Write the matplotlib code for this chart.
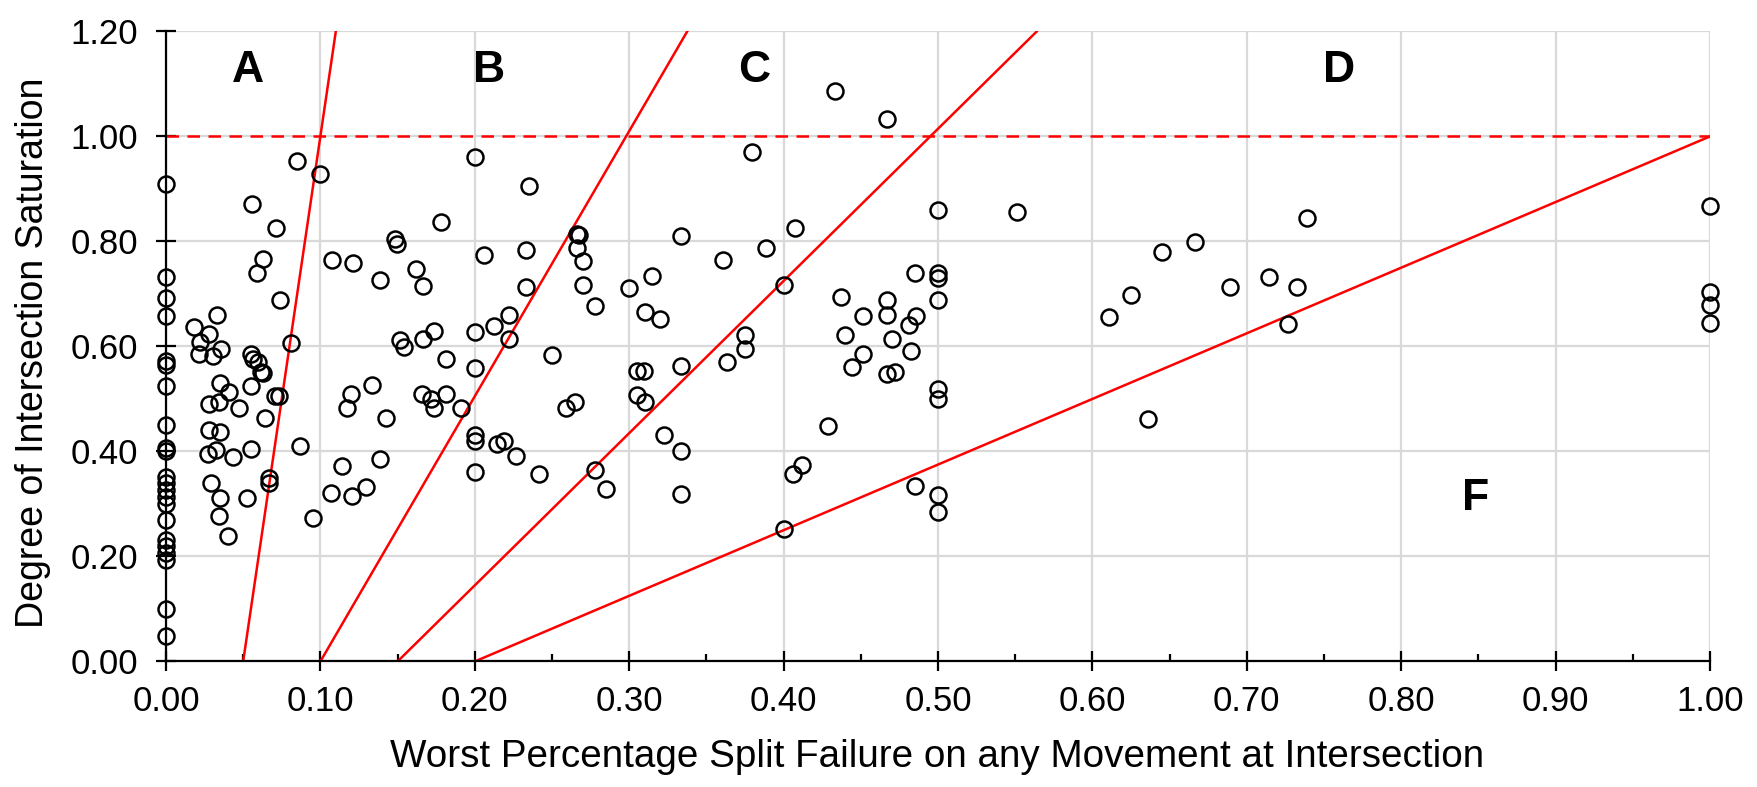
import matplotlib
matplotlib.use("Agg")
import matplotlib.pyplot as plt
import numpy as np

plt.rcParams['font.family'] = ['Liberation Sans', 'DejaVu Sans']

# ---- data ----
split_fail_zero = [0.0] * 22
dos_zero = [0.909, 0.733, 0.692, 0.658, 0.573, 0.564, 0.524, 0.451, 0.407, 0.400,
            0.351, 0.339, 0.326, 0.313, 0.300, 0.269, 0.232, 0.220, 0.207, 0.194,
            0.099, 0.049]

split_fail_a = [0.0848, 0.0999, 0.0556, 0.0714, 0.0627, 0.0588, 0.0739, 0.0331, 0.0184, 0.0277,
                0.0221, 0.0357, 0.0211, 0.0303, 0.0811, 0.0551, 0.0562, 0.0595, 0.0616, 0.0631,
                0.0350, 0.0411, 0.0551, 0.0277, 0.0342, 0.0476, 0.0703, 0.0735, 0.0644, 0.0277,
                0.0352, 0.0270, 0.0324, 0.0432, 0.0554, 0.0869, 0.0666, 0.0666, 0.0292, 0.0352,
                0.0523, 0.0341, 0.0400, 0.0951]
dos_a = [0.954, 0.928, 0.871, 0.826, 0.766, 0.739, 0.689, 0.660, 0.637, 0.624,
         0.609, 0.596, 0.586, 0.581, 0.607, 0.586, 0.577, 0.570, 0.551, 0.550,
         0.530, 0.513, 0.524, 0.490, 0.494, 0.483, 0.505, 0.505, 0.464, 0.441,
         0.437, 0.396, 0.403, 0.390, 0.404, 0.411, 0.350, 0.339, 0.339, 0.311,
         0.311, 0.277, 0.239, 0.273]

split_fail_b = [0.1077, 0.1211, 0.1388, 0.1481, 0.1496, 0.1622, 0.1665, 0.1784, 0.1518, 0.1541,
                0.1665, 0.1734, 0.1816, 0.1335, 0.1200, 0.1172, 0.1427, 0.1661, 0.1719, 0.1735,
                0.1816, 0.1914, 0.1142, 0.1388, 0.1070, 0.1206, 0.1297, 0.2000, 0.2058, 0.2000,
                0.2000, 0.2000, 0.2000, 0.2000, 0.2123, 0.2222, 0.2222, 0.2141, 0.2188, 0.2270,
                0.2352, 0.2335, 0.2335, 0.2413, 0.2501, 0.2590, 0.2646, 0.2663, 0.2676, 0.2663,
                0.2702, 0.2702, 0.2778, 0.2778, 0.2853]
dos_b = [0.764, 0.759, 0.727, 0.805, 0.796, 0.747, 0.716, 0.837, 0.613, 0.598,
         0.614, 0.630, 0.577, 0.526, 0.509, 0.483, 0.464, 0.509, 0.500, 0.483,
         0.509, 0.483, 0.373, 0.386, 0.320, 0.315, 0.332, 0.960, 0.774, 0.628,
         0.558, 0.431, 0.420, 0.360, 0.638, 0.660, 0.615, 0.415, 0.420, 0.391,
         0.906, 0.783, 0.713, 0.357, 0.583, 0.483, 0.494, 0.815, 0.812, 0.788,
         0.763, 0.717, 0.677, 0.364, 0.328]

split_fail_c = [0.3000, 0.3048, 0.3095, 0.3145, 0.3102, 0.3199, 0.3048, 0.3102, 0.3225, 0.3333,
                0.3333, 0.3333, 0.3333, 0.3609, 0.3635, 0.3749, 0.3749, 0.3793, 0.3886, 0.4000,
                0.4000, 0.4058, 0.4117, 0.4073, 0.4285, 0.4333, 0.4667, 0.4369, 0.4397, 0.4516,
                0.4516, 0.4441, 0.4667, 0.4667, 0.4704, 0.4667, 0.4721, 0.5000, 0.5512, 0.4849,
                0.5000, 0.5000, 0.5000, 0.4859, 0.4812, 0.4827, 0.5000, 0.5000, 0.4849, 0.5000,
                0.5000]
dos_c = [0.711, 0.553, 0.553, 0.735, 0.665, 0.652, 0.507, 0.494, 0.432, 0.811,
         0.562, 0.401, 0.319, 0.764, 0.570, 0.621, 0.596, 0.970, 0.787, 0.717,
         0.252, 0.357, 0.374, 0.826, 0.448, 1.086, 1.034, 0.694, 0.621, 0.658,
         0.586, 0.560, 0.689, 0.660, 0.614, 0.547, 0.551, 0.860, 0.856, 0.739,
         0.739, 0.730, 0.688, 0.658, 0.641, 0.591, 0.519, 0.500, 0.334, 0.317,
         0.285]

split_fail_d = [0.6109, 0.6248, 0.6362, 0.6449, 0.6665, 0.6892, 0.7141, 0.7270, 0.7324, 0.7387,
                1.0, 1.0, 1.0, 1.0]
dos_d = [0.656, 0.698, 0.462, 0.780, 0.798, 0.713, 0.733, 0.643, 0.713, 0.845,
         0.867, 0.704, 0.678, 0.645]

# zone boundary lines: x where DoS = 0 and x where DoS = 1
boundary_x_at_0 = [0.05, 0.10, 0.15, 0.20]
boundary_x_at_1 = [0.10, 0.298, 0.495, 1.00]

zone_labels = ['A', 'B', 'C', 'D', 'F']
zone_label_x = [0.053, 0.209, 0.381, 0.760, 0.848]
zone_label_y = [1.125, 1.125, 1.125, 1.125, 0.31]

x_ticks = [0.0, 0.1, 0.2, 0.3, 0.4, 0.5, 0.6, 0.7, 0.8, 0.9, 1.0]
y_ticks = [0.0, 0.2, 0.4, 0.6, 0.8, 1.0, 1.2]

# ---- figure ----
fig = plt.figure(figsize=(17.58, 7.87), dpi=100)
ax = fig.add_axes([0.0944, 0.1595, 0.8783, 0.8006])

ax.set_xlim(0, 1.0)
ax.set_ylim(0, 1.2)

grid_col = '#D9D9D9'
ax.set_xticks(x_ticks)
ax.set_yticks(y_ticks)
ax.set_xticks(np.arange(0.05, 1.0, 0.1), minor=True)
ax.grid(True, which='major', color=grid_col, linewidth=1.6, zorder=0)
ax.set_axisbelow(True)

for s in ['top', 'right']:
    ax.spines[s].set_visible(False)
for s in ['left', 'bottom']:
    ax.spines[s].set_linewidth(1.6)
    ax.spines[s].set_color('black')

ax.set_xticklabels([f'{v:.2f}' for v in x_ticks])
ax.set_yticklabels([f'{v:.2f}' for v in y_ticks])
ax.tick_params(axis='both', which='major', direction='inout', length=14.4, width=1.6,
               labelsize=25, colors='black')
ax.tick_params(axis='x', which='major', pad=10)
ax.tick_params(axis='y', which='major', pad=13)
ax.tick_params(axis='x', which='minor', direction='in', length=5, width=1.6)

# zone boundary lines
for x0, x1 in zip(boundary_x_at_0, boundary_x_at_1):
    slope = 1.0 / (x1 - x0)
    xe = min(x0 + 1.2 / slope, 1.0)
    ax.plot([x0, xe], [0, (xe - x0) * slope], color='#FF0000', linewidth=1.8, zorder=2)
ax.plot([0, 1.0], [1.0, 1.0], color='#FF0000', linewidth=1.8, linestyle=(0, (5, 3.4)), zorder=2)

# scatter points
xs = split_fail_zero + split_fail_a + split_fail_b + split_fail_c + split_fail_d
ys = dos_zero + dos_a + dos_b + dos_c + dos_d
ax.plot(xs, ys, linestyle='none', marker='o', markersize=11.5, markerfacecolor='none',
        markeredgecolor='black', markeredgewidth=1.8, clip_on=False, zorder=3)

for lab, lx, ly in zip(zone_labels, zone_label_x, zone_label_y):
    ax.text(lx, ly, lab, fontsize=32, fontweight='bold', ha='center', va='center', color='black')

fig.text(0.533, 0.038, 'Worst Percentage Split Failure on any Movement at Intersection',
         fontsize=27.8, ha='center', va='center')
fig.text(33 / 1758, 0.5515, 'Degree of Intersection Saturation', fontsize=27,
         rotation=90, ha='center', va='center')

fig.savefig('out.png', dpi=100)
